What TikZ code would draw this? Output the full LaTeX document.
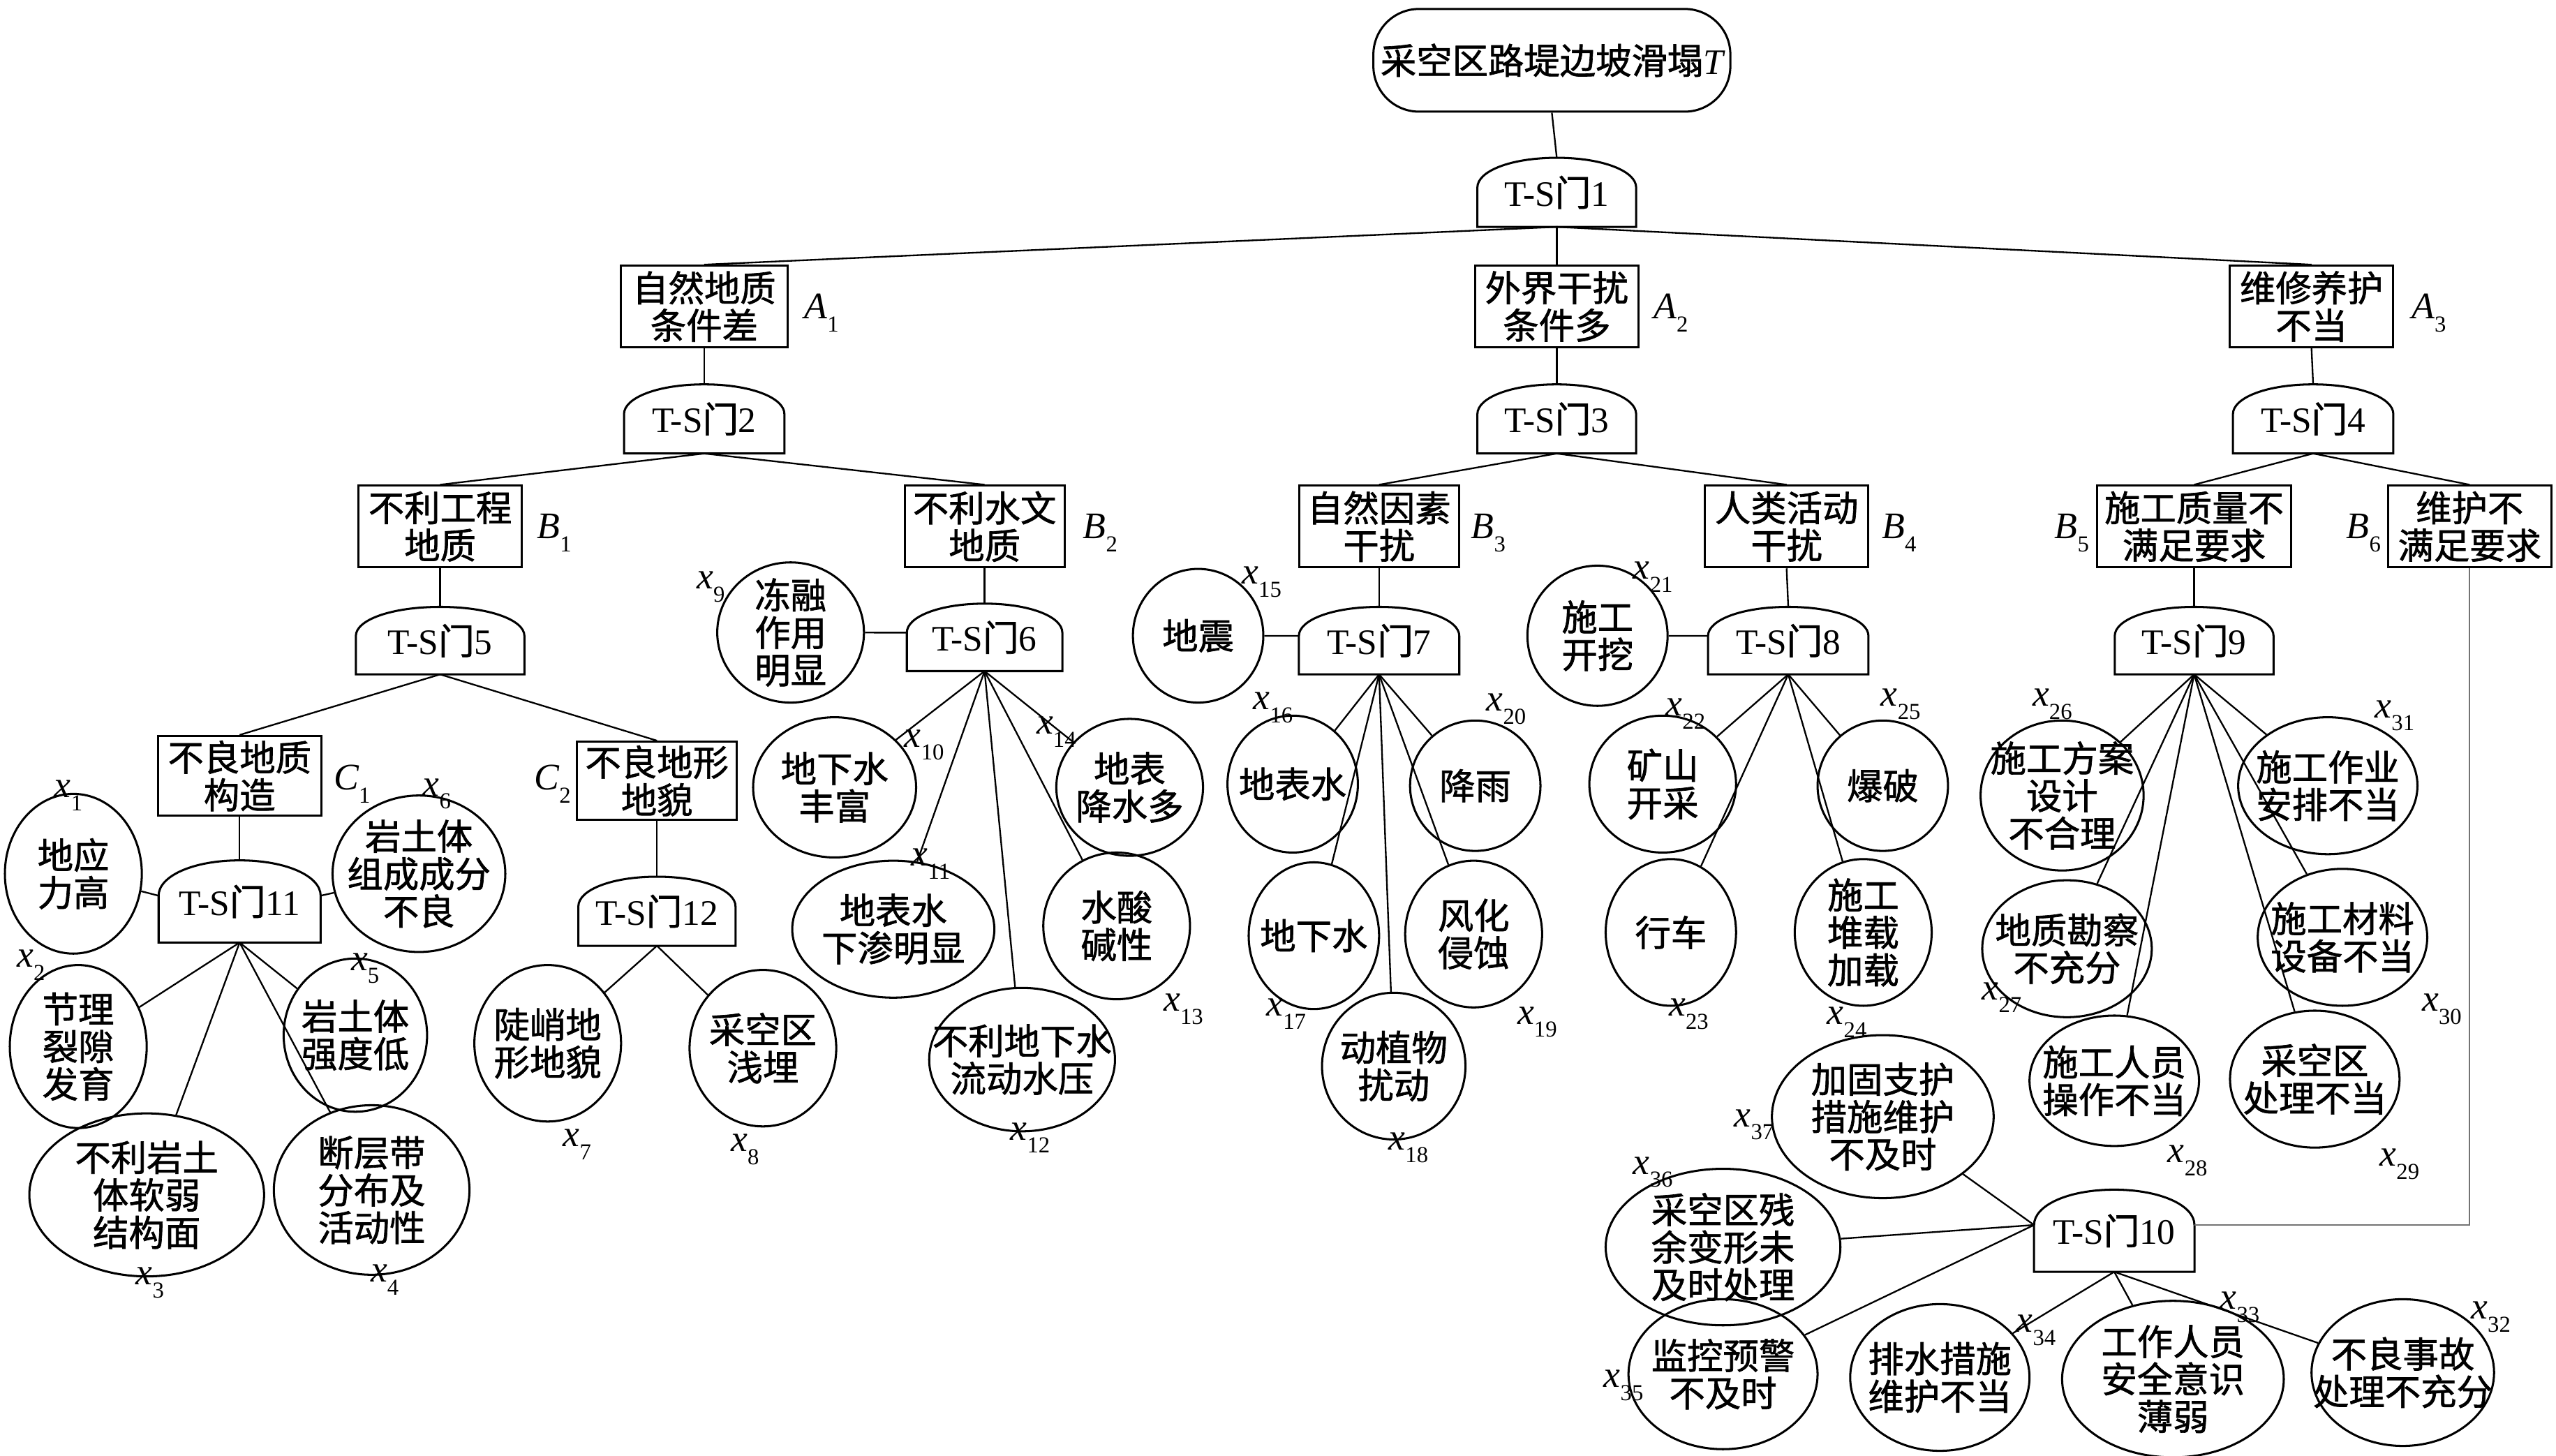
\documentclass[tikz,border=0pt]{standalone}
\usepackage{fontspec}
\setmainfont{Liberation Serif}
\newfontfamily\cjk[FakeBold=1.3]{Noto Sans CJK SC}
\usetikzlibrary{shapes.geometric,calc}
\newcommand\xl[2]{{\itshape #1}\raisebox{-8pt}{\fontsize{14}{14}\selectfont #2}}
\newcommand\gatelab[1]{T-S{\cjk 门}#1}
\newcommand\gate[6]{%
  \pgfmathsetmacro\gah{0.24*#6}%
  \pgfmathsetmacro\gaw{0.29*#5}%
  \node[gnode,minimum width=#5pt,minimum height=#6pt] (#1) at (#2,#3) {\gatelab{#4}};
  \coordinate (#1-l) at ($(#1.south west)!0.57!(#1.north west)$);
  \coordinate (#1-r) at ($(#1.south east)!0.57!(#1.north east)$);
  \draw[gateline] (#1.south west) -- (#1-l) .. controls +(0pt,\gah pt) and +(-\gaw pt,0pt) .. (#1.north) .. controls +(\gaw pt,0pt) and +(0pt,\gah pt) .. (#1-r) -- (#1.south east) -- cycle;
}
\tikzset{
  every node/.style={inner sep=0pt},
  box/.style={draw,line width=1.3pt,rectangle,minimum width=100pt,minimum height=50pt,align=center,font=\cjk\fontsize{22}{23}\selectfont},
  topbox/.style={draw,line width=1.3pt,rectangle,rounded corners=28pt,minimum width=219pt,minimum height=63pt,font=\cjk\fontsize{22}{23}\selectfont},
  circ/.style={draw,line width=1.3pt,ellipse,inner sep=-18pt,align=center,font=\cjk\fontsize{22}{23}\selectfont},
  gnode/.style={font=\fontsize{22}{23}\selectfont},
  gateline/.style={line width=1.3pt},
  lab/.style={font=\fontsize{23}{23}\selectfont},
  conn/.style={line width=1pt},
}
\newcommand\cnode[6]{\node[circ,minimum width=#4pt,minimum height=#5pt] (#1) at (#2,#3) {#6};}
\begin{document}
\begin{tikzpicture}[x=1pt,y=-1pt]
\useasboundingbox (0,0) rectangle (1568,893);
% top
\node[topbox] (T) at (952,37) {采空区路堤边坡滑塌{\normalfont\itshape T}};
\gate{g1}{955}{118}{1}{97}{42}
% level A
\node[box,minimum width=102pt] (A1) at (432,188) {自然地质\\条件差};
\node[box] (A2) at (955,188) {外界干扰\\条件多};
\node[box] (A3) at (1418,188) {维修养护\\不当};
\node[lab] (lA1) at (504,192) {\xl{A}{1}};
\node[lab] (lA2) at (1025,192) {\xl{A}{2}};
\node[lab] (lA3) at (1490,192) {\xl{A}{3}};
\gate{g2}{432}{257}{2}{98}{42}
\gate{g3}{955}{257}{3}{97}{42}
\gate{g4}{1419}{257}{4}{98}{42}
% level B
\node[box] (B1) at (270,323) {不利工程\\地质};
\node[box,minimum width=98pt] (B2) at (604,323) {不利水文\\地质};
\node[box,minimum width=98pt] (B3) at (846,323) {自然因素\\干扰};
\node[box] (B4) at (1096,323) {人类活动\\干扰};
\node[box,minimum width=119pt] (B5) at (1346,323) {施工质量不\\满足要求};
\node[box] (B6) at (1515,323) {维护不\\满足要求};
\node[lab] (lB1) at (340,327) {\xl{B}{1}};
\node[lab] (lB2) at (675,327) {\xl{B}{2}};
\node[lab] (lB3) at (913,327) {\xl{B}{3}};
\node[lab] (lB4) at (1165,327) {\xl{B}{4}};
\node[lab] (lB5) at (1271,327) {\xl{B}{5}};
\node[lab] (lB6) at (1450,327) {\xl{B}{6}};
\gate{g5}{270}{393}{5}{103}{41}
\gate{g6}{604}{391}{6}{95}{41}
\gate{g7}{846}{393}{7}{98}{41}
\gate{g8}{1097}{393}{8}{98}{41}
\gate{g9}{1346}{393}{9}{97}{41}
% level C
\node[box,minimum height=49pt] (C1) at (147,476) {不良地质\\构造};
\node[box,minimum width=98pt,minimum height=48pt] (C2) at (403,479) {不良地形\\地貌};
\node[lab] (lC1) at (216,481) {\xl{C}{1}};
\node[lab] (lC2) at (339,481) {\xl{C}{2}};
\gate{g11}{147}{553}{11}{99}{50}
\gate{g12}{403}{559}{12}{96}{42}
\gate{g10}{1297}{755}{10}{98}{50}
% basic events
\cnode{x1}{45}{536}{84}{98}{地应\\力高}
\cnode{x6}{257}{536}{106}{96}{岩土体\\组成成分\\不良}
\cnode{x2}{48}{642}{84}{100}{节理\\裂隙\\发育}
\cnode{x5}{218}{635}{88}{94}{岩土体\\强度低}
\cnode{x3}{90}{733}{144}{100}{不利岩土\\体软弱\\结构面}
\cnode{x4}{228}{730}{120}{104}{断层带\\分布及\\活动性}
\cnode{x7}{336}{640}{90}{96}{陡峭地\\形地貌}
\cnode{x8}{468}{643}{90}{96}{采空区\\浅埋}
\cnode{x9}{485}{388}{90}{86}{冻融\\作用\\明显}
\cnode{x10}{512}{483}{100}{86}{地下水\\丰富}
\cnode{x14}{693}{483}{90}{84}{地表\\降水多}
\cnode{x11}{548}{570}{124}{84}{地表水\\下渗明显}
\cnode{x13}{685}{568}{90}{90}{水酸\\碱性}
\cnode{x12}{627}{650}{114}{88}{不利地下水\\流动水压}
\cnode{x15}{735}{390}{80}{82}{地震}
\cnode{x16}{793}{481}{80}{84}{地表水}
\cnode{x20}{905}{482}{80}{80}{降雨}
\cnode{x17}{806}{574}{80}{90}{地下水}
\cnode{x19}{904}{573}{84}{90}{风化\\侵蚀}
\cnode{x18}{855}{654}{88}{90}{动植物\\扰动}
\cnode{x21}{980}{390}{86}{86}{施工\\开挖}
\cnode{x22}{1020}{481}{90}{84}{矿山\\开采}
\cnode{x25}{1155}{482}{80}{80}{爆破}
\cnode{x23}{1025}{572}{80}{90}{行车}
\cnode{x24}{1143}{572}{84}{90}{施工\\堆载\\加载}
\cnode{x26}{1265}{488}{100}{92}{施工方案\\设计\\不合理}
\cnode{x31}{1428}{482}{110}{84}{施工作业\\安排不当}
\cnode{x27}{1268}{582}{104}{84}{地质勘察\\不充分}
\cnode{x30}{1437}{575}{104}{84}{施工材料\\设备不当}
\cnode{x28}{1297}{663}{104}{80}{施工人员\\操作不当}
\cnode{x29}{1420}{662}{104}{84}{采空区\\处理不当}
\cnode{x37}{1155}{685}{136}{100}{加固支护\\措施维护\\不及时}
\cnode{x36}{1057}{765}{144}{96}{采空区残\\余变形未\\及时处理}
\cnode{x35}{1057}{843}{116}{92}{监控预警\\不及时}
\cnode{x34}{1190}{845}{110}{90}{排水措施\\维护不当}
\cnode{x33}{1333}{846}{136}{96}{工作人员\\安全意识\\薄弱}
\cnode{x32}{1474}{842}{112}{90}{不良事故\\处理不充分}
% labels of basic events
\node[lab] (l1) at (42,488) {\xl{x}{1}};
\node[lab] (l6) at (268,487) {\xl{x}{6}};
\node[lab] (l2) at (19,592) {\xl{x}{2}};
\node[lab] (l5) at (224,594) {\xl{x}{5}};
\node[lab] (l3) at (92,787) {\xl{x}{3}};
\node[lab] (l4) at (236,785) {\xl{x}{4}};
\node[lab] (l7) at (354,702) {\xl{x}{7}};
\node[lab] (l8) at (457,705) {\xl{x}{8}};
\node[lab] (l9) at (436,360) {\xl{x}{9}};
\node[lab] (l10) at (567,457) {\xl{x}{10}};
\node[lab] (l14) at (648,449) {\xl{x}{14}};
\node[lab] (l11) at (571,530) {\xl{x}{11}};
\node[lab] (l13) at (726,619) {\xl{x}{13}};
\node[lab] (l12) at (632,698) {\xl{x}{12}};
\node[lab] (l15) at (774,357) {\xl{x}{15}};
\node[lab] (l16) at (781,434) {\xl{x}{16}};
\node[lab] (l20) at (924,435) {\xl{x}{20}};
\node[lab] (l17) at (789,622) {\xl{x}{17}};
\node[lab] (l19) at (943,627) {\xl{x}{19}};
\node[lab] (l18) at (864,704) {\xl{x}{18}};
\node[lab] (l21) at (1014,354) {\xl{x}{21}};
\node[lab] (l22) at (1034,438) {\xl{x}{22}};
\node[lab] (l25) at (1166,432) {\xl{x}{25}};
\node[lab] (l23) at (1036,622) {\xl{x}{23}};
\node[lab] (l24) at (1133,627) {\xl{x}{24}};
\node[lab] (l26) at (1259,432) {\xl{x}{26}};
\node[lab] (l31) at (1469,439) {\xl{x}{31}};
\node[lab] (l27) at (1228,612) {\xl{x}{27}};
\node[lab] (l30) at (1498,619) {\xl{x}{30}};
\node[lab] (l28) at (1342,712) {\xl{x}{28}};
\node[lab] (l29) at (1472,714) {\xl{x}{29}};
\node[lab] (l37) at (1076,690) {\xl{x}{37}};
\node[lab] (l36) at (1014,719) {\xl{x}{36}};
\node[lab] (l35) at (996,850) {\xl{x}{35}};
\node[lab] (l34) at (1249,816) {\xl{x}{34}};
\node[lab] (l33) at (1374,802) {\xl{x}{33}};
\node[lab] (l32) at (1528,808) {\xl{x}{32}};
% connectors
\draw[conn] (T.south) -- (g1.north);
\foreach \a in {A1,A2,A3} \draw[conn] (g1.south) -- (\a.north);
\draw[conn] (A1.south) -- (g2.north);
\draw[conn] (A2.south) -- (g3.north);
\draw[conn] (A3.south) -- (g4.north);
\foreach \b in {B1,B2} \draw[conn] (g2.south) -- (\b.north);
\foreach \b in {B3,B4} \draw[conn] (g3.south) -- (\b.north);
\foreach \b in {B5,B6} \draw[conn] (g4.south) -- (\b.north);
\draw[conn] (B1.south) -- (g5.north);
\draw[conn] (B2.south) -- (g6.north);
\draw[conn] (B3.south) -- (g7.north);
\draw[conn] (B4.south) -- (g8.north);
\draw[conn] (B5.south) -- (g9.north);
\foreach \c in {C1,C2} \draw[conn] (g5.south) -- (\c.north);
\draw[conn] (C1.south) -- (g11.north);
\draw[conn] (C2.south) -- (g12.north);
\draw[conn] (g11-l) -- (x1);
\draw[conn] (g11-r) -- (x6);
\foreach \x in {x2,x5,x3,x4} \draw[conn] (g11.south) -- (\x);
\foreach \x in {x7,x8} \draw[conn] (g12.south) -- (\x);
\draw[conn] (g6-l) -- (x9);
\foreach \x in {x10,x14,x11,x13,x12} \draw[conn] (g6.south) -- (\x);
\draw[conn] (g7-l) -- (x15);
\foreach \x in {x16,x20,x17,x19,x18} \draw[conn] (g7.south) -- (\x);
\draw[conn] (g8-l) -- (x21);
\foreach \x in {x22,x25,x23,x24} \draw[conn] (g8.south) -- (\x);
\foreach \x in {x26,x31,x27,x30,x28,x29} \draw[conn] (g9.south) -- (\x);
\foreach \x in {x37,x36,x35} \draw[conn] (g10-l) -- (\x);
\foreach \x in {x34,x33,x32} \draw[conn] (g10.south) -- (\x);
\draw[conn,black!55] (B6.south) |- (g10-r);
\end{tikzpicture}
\end{document}
